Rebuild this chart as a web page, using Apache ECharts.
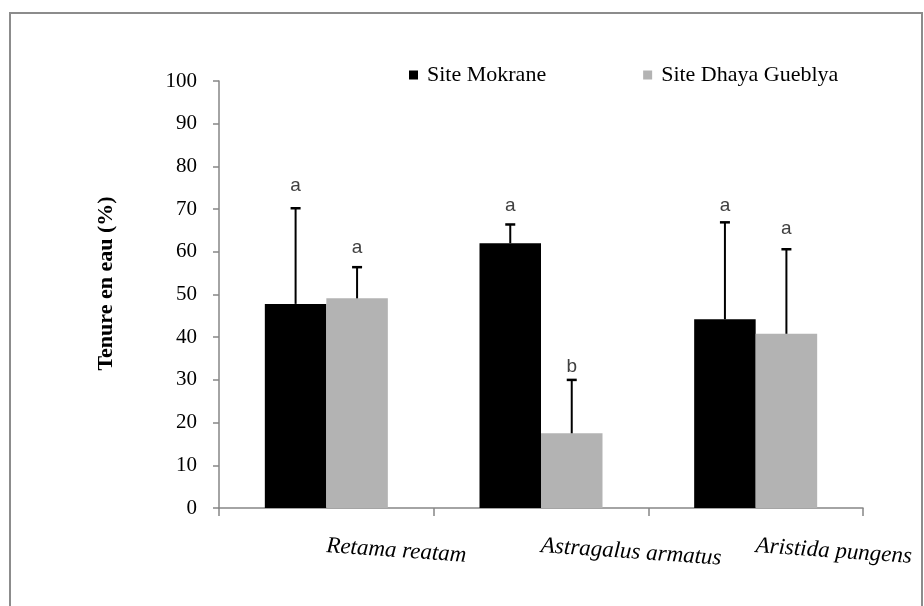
<!DOCTYPE html>
<html>
<head>
<meta charset="utf-8">
<script src="https://cdn.jsdelivr.net/npm/echarts@6/dist/echarts.min.js"></script>
<style>
html,body{margin:0;padding:0;background:#fff;}
#chart{width:924px;height:606px;}
</style>
</head>
<body>
<div id="chart"></div>
<script>
// Data
var categories = ['Retama reatam', 'Astragalus armatus', 'Aristida pungens'];
var seriesNames = ['Site Mokrane', 'Site Dhaya Gueblya'];
var mokrane = [47.8, 62.0, 44.2];
var dhaya = [49.1, 17.5, 40.8];
var mokraneErr = [22.4, 4.4, 22.7];
var dhayaErr = [7.3, 12.5, 19.8];
var mokraneLetters = ['a', 'a', 'a'];
var dhayaLetters = ['a', 'b', 'a'];
var mokraneLetterY = [74.1, 69.4, 69.6];
var dhayaLetterY = [59.6, 31.9, 64.2];
var yTicks = [0, 10, 20, 30, 40, 50, 60, 70, 80, 90, 100];

var serif = '"Liberation Serif", "Times New Roman", serif';
var sans = '"Liberation Sans", Arial, sans-serif';

function errData(vals, errs, ly) {
  return vals.map(function (v, i) { return [i, v, v + errs[i], ly[i]]; });
}

function makeErr(name, vals, errs, letters, ly, sign) {
  return {
    name: name + ' err',
    type: 'custom',
    z: 5,
    silent: true,
    encode: { x: 0, y: [1, 2, 3] },
    data: errData(vals, errs, ly),
    renderItem: function (params, api) {
      var i = api.value(0);
      var base = api.coord([i, api.value(1)]);
      var top = api.coord([i, api.value(2)]);
      var lt = api.coord([i, api.value(3)]);
      var cw = api.size([1, 0])[0];
      var x = base[0] + sign * cw * 0.1432;
      return {
        type: 'group',
        children: [
          { type: 'line', shape: { x1: x, y1: base[1], x2: x, y2: top[1] }, style: { stroke: '#000', lineWidth: 2 } },
          { type: 'line', shape: { x1: x - 5, y1: top[1], x2: x + 5, y2: top[1] }, style: { stroke: '#000', lineWidth: 2.5 } },
          { type: 'text', x: x, y: lt[1] + 4, style: { text: letters[params.dataIndex], align: 'center', verticalAlign: 'bottom', fontSize: 19, fontFamily: sans, fill: '#404040' } }
        ]
      };
    }
  };
}

var chart = echarts.init(document.getElementById('chart'));
chart.setOption({
  animation: false,
  backgroundColor: '#fff',
  graphic: [{
    type: 'rect', z: -10,
    shape: { x: 10, y: 13, width: 912, height: 640 },
    style: { fill: 'none', stroke: '#8c8c8c', lineWidth: 2 }
  }],
  legend: {
    data: seriesNames,
    left: 404,
    top: 59,
    icon: 'rect',
    itemWidth: 9,
    itemHeight: 9,
    itemGap: 97,
    textStyle: { fontFamily: serif, fontSize: 22, color: '#000', padding: [0, 0, 0, 4] }
  },
  grid: { left: 219, right: 61, top: 81, bottom: 98, containLabel: false },
  xAxis: {
    type: 'category',
    data: categories,
    boundaryGap: true,
    axisLine: { lineStyle: { color: '#868686', width: 1.5 } },
    axisTick: { show: true, interval: 0, length: 8, lineStyle: { color: '#868686', width: 1.5 } },
    axisLabel: {
      interval: 0,
      hideOverlap: false,
      rotate: -4,
      align: 'left',
      verticalAlign: 'middle',
      margin: 38,
      fontFamily: serif,
      fontStyle: 'italic',
      fontSize: 23,
      color: '#000'
    }
  },
  yAxis: {
    type: 'value',
    min: 0,
    max: 100,
    interval: 10,
    name: 'Tenure en eau (%)',
    nameLocation: 'middle',
    nameGap: 102,
    nameRotate: 90,
    nameTextStyle: { fontFamily: serif, fontWeight: 'bold', fontSize: 22, color: '#000', padding: [0, 0, 0, 22] },
    axisLine: { show: true, lineStyle: { color: '#868686', width: 1.5 } },
    axisTick: { show: true, length: 6, lineStyle: { color: '#868686', width: 1.5 } },
    splitLine: { show: false },
    axisLabel: {
      margin: 22,
      fontFamily: serif,
      fontSize: 21,
      color: '#000',
      formatter: function (v) { return yTicks.indexOf(v) >= 0 ? String(v) : ''; }
    }
  },
  series: [
    {
      name: seriesNames[0], type: 'bar', data: mokrane,
      barGap: '0%', barCategoryGap: '42.7%',
      itemStyle: { color: '#000' }
    },
    {
      name: seriesNames[1], type: 'bar', data: dhaya,
      barGap: '0%', barCategoryGap: '42.7%',
      itemStyle: { color: '#b3b3b3' }
    },
    makeErr(seriesNames[0], mokrane, mokraneErr, mokraneLetters, mokraneLetterY, -1),
    makeErr(seriesNames[1], dhaya, dhayaErr, dhayaLetters, dhayaLetterY, 1)
  ]
});
</script>
</body>
</html>
